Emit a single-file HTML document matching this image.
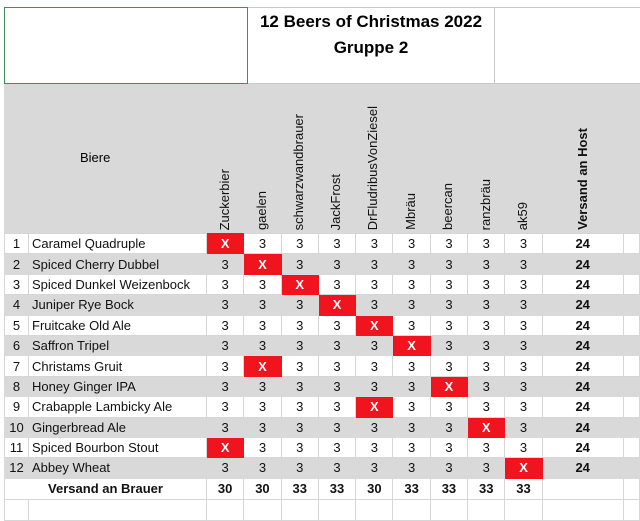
<!DOCTYPE html>
<html><head><meta charset="utf-8"><style>
html,body{margin:0;padding:0;width:640px;height:517px;overflow:hidden;background:#fff;font-family:"Liberation Sans",sans-serif;}
.abs{position:absolute;}
#hdr{left:4px;top:84px;width:636px;height:149px;background:#d9d9d9;}
.v{position:absolute;bottom:286px;writing-mode:vertical-rl;transform:rotate(180deg);font-size:13px;line-height:14px;white-space:nowrap;color:#111;}
table{position:absolute;left:4px;top:233px;border-collapse:collapse;table-layout:fixed;width:636px;}
td{height:19.4px;padding:0;border:1px solid #d6d6d6;font-size:13px;text-align:center;color:#111;white-space:nowrap;overflow:hidden;}
tr.g td{background:#d9d9d9;border-color:#d9d9d9;}
td.n{text-align:center;}
td.nm{text-align:left;padding-left:3px;}
td.x{background:#f0141e !important;color:#fff;font-weight:bold;border-color:#f0141e !important;}
td.b{font-weight:bold;}
</style></head><body>
<div class="abs" style="left:248px;top:7px;width:246px;height:76px;border-top:1px solid #c8c8c8;border-right:1px solid #c8c8c8;"></div>
<div class="abs" style="left:494px;top:7px;width:146px;height:76px;border-top:1px solid #c8c8c8;"></div>
<div class="abs" style="left:248px;top:11px;width:246px;text-align:center;font-weight:bold;font-size:17px;line-height:22px;">12 Beers of Christmas 2022<br><span style="line-height:30px">Gruppe 2</span></div>
<div class="abs" style="left:4px;top:83px;width:636px;height:1px;background:#c8c8c8;"></div>
<div class="abs" style="left:4px;top:7px;width:242px;height:75px;border:1px solid #3f8f5c;"></div>
<div id="hdr" class="abs"></div>
<div class="abs" style="left:80px;top:150px;font-size:13px;">Biere</div>
<div class="v" style="left:218px;bottom:287px">Zuckerbier</div>
<div class="v" style="left:255px;bottom:287px">gaelen</div>
<div class="v" style="left:292px;bottom:287px">schwarzwandbrauer</div>
<div class="v" style="left:329px;bottom:287px">JackFrost</div>
<div class="v" style="left:366px;bottom:287px">DrFludribusVonZiesel</div>
<div class="v" style="left:404px;bottom:287px">Mbräu</div>
<div class="v" style="left:441px;bottom:287px">beercan</div>
<div class="v" style="left:479px;bottom:287px">ranzbräu</div>
<div class="v" style="left:516px;bottom:287px">ak59</div>
<div class="v" style="left:576px;bottom:287px;font-weight:bold">Versand an Host</div>
<table>
<colgroup><col style="width:24px"><col style="width:178px"><col style="width:37.3px"><col style="width:37.3px"><col style="width:37.3px"><col style="width:37.3px"><col style="width:37.3px"><col style="width:37.3px"><col style="width:37.3px"><col style="width:37.3px"><col style="width:37.3px"><col style="width:81px"><col></colgroup>
<tr><td class="n">1</td><td class="nm">Caramel Quadruple</td><td class="x">X</td><td>3</td><td>3</td><td>3</td><td>3</td><td>3</td><td>3</td><td>3</td><td>3</td><td class="b">24</td><td></td></tr>
<tr class="g"><td class="n">2</td><td class="nm">Spiced Cherry Dubbel</td><td>3</td><td class="x">X</td><td>3</td><td>3</td><td>3</td><td>3</td><td>3</td><td>3</td><td>3</td><td class="b">24</td><td></td></tr>
<tr><td class="n">3</td><td class="nm">Spiced Dunkel Weizenbock</td><td>3</td><td>3</td><td class="x">X</td><td>3</td><td>3</td><td>3</td><td>3</td><td>3</td><td>3</td><td class="b">24</td><td></td></tr>
<tr class="g"><td class="n">4</td><td class="nm">Juniper Rye Bock</td><td>3</td><td>3</td><td>3</td><td class="x">X</td><td>3</td><td>3</td><td>3</td><td>3</td><td>3</td><td class="b">24</td><td></td></tr>
<tr><td class="n">5</td><td class="nm">Fruitcake Old Ale</td><td>3</td><td>3</td><td>3</td><td>3</td><td class="x">X</td><td>3</td><td>3</td><td>3</td><td>3</td><td class="b">24</td><td></td></tr>
<tr class="g"><td class="n">6</td><td class="nm">Saffron Tripel</td><td>3</td><td>3</td><td>3</td><td>3</td><td>3</td><td class="x">X</td><td>3</td><td>3</td><td>3</td><td class="b">24</td><td></td></tr>
<tr><td class="n">7</td><td class="nm">Christams Gruit</td><td>3</td><td class="x">X</td><td>3</td><td>3</td><td>3</td><td>3</td><td>3</td><td>3</td><td>3</td><td class="b">24</td><td></td></tr>
<tr class="g"><td class="n">8</td><td class="nm">Honey Ginger IPA</td><td>3</td><td>3</td><td>3</td><td>3</td><td>3</td><td>3</td><td class="x">X</td><td>3</td><td>3</td><td class="b">24</td><td></td></tr>
<tr><td class="n">9</td><td class="nm">Crabapple Lambicky Ale</td><td>3</td><td>3</td><td>3</td><td>3</td><td class="x">X</td><td>3</td><td>3</td><td>3</td><td>3</td><td class="b">24</td><td></td></tr>
<tr class="g"><td class="n">10</td><td class="nm">Gingerbread Ale</td><td>3</td><td>3</td><td>3</td><td>3</td><td>3</td><td>3</td><td>3</td><td class="x">X</td><td>3</td><td class="b">24</td><td></td></tr>
<tr><td class="n">11</td><td class="nm">Spiced Bourbon Stout</td><td class="x">X</td><td>3</td><td>3</td><td>3</td><td>3</td><td>3</td><td>3</td><td>3</td><td>3</td><td class="b">24</td><td></td></tr>
<tr class="g"><td class="n">12</td><td class="nm">Abbey Wheat</td><td>3</td><td>3</td><td>3</td><td>3</td><td>3</td><td>3</td><td>3</td><td>3</td><td class="x">X</td><td class="b">24</td><td></td></tr>
<tr><td colspan="2" class="b" style="text-align:center;padding-left:0;height:20px">Versand an Brauer</td><td class="b">30</td><td class="b">30</td><td class="b">33</td><td class="b">33</td><td class="b">30</td><td class="b">33</td><td class="b">33</td><td class="b">33</td><td class="b">33</td><td></td><td></td></tr>
<tr><td style="height:20px"></td><td></td><td></td><td></td><td></td><td></td><td></td><td></td><td></td><td></td><td></td><td></td><td></td></tr>
</table>
</body></html>
